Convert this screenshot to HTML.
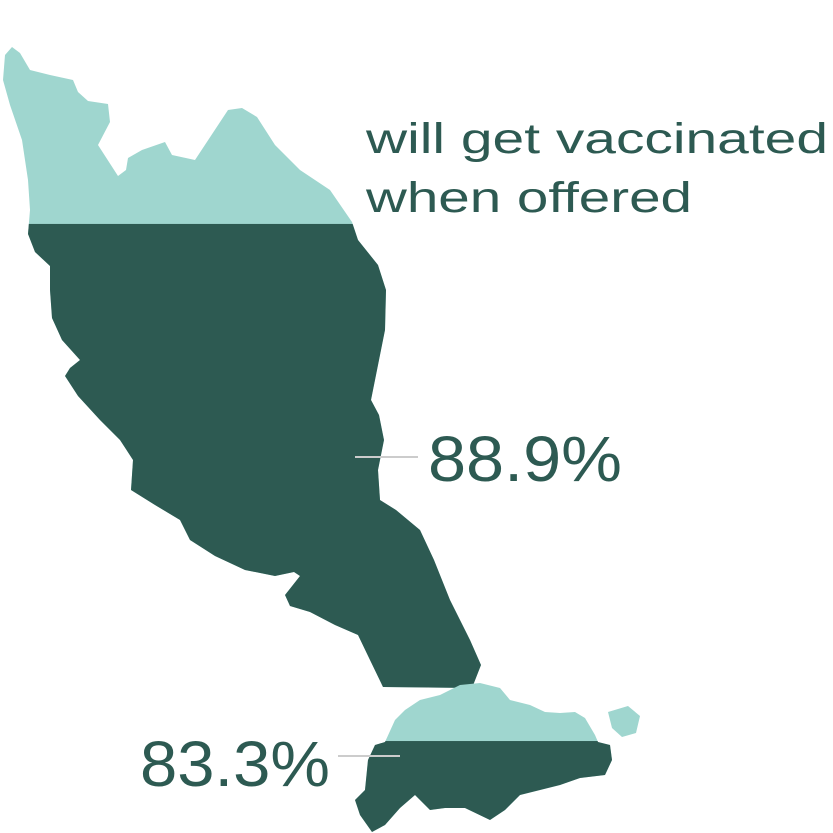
<!DOCTYPE html>
<html><head><meta charset="utf-8"><style>
html,body{margin:0;padding:0;background:#fff;}
svg{display:block;}
text{font-family:"Liberation Sans",sans-serif;fill:#2d5a52;}
</style></head><body>
<svg id="chart" width="833" height="833" viewBox="0 0 833 833">
<defs>
<clipPath id="clip-my"><path id="my-shape" d="M5,55 L12,47 L20,53 L30,70 L50,75 L73,80 L78,92 L88,101 L108,104 L110,122 L98,145 L118,176 L126,170 L128,158 L142,150 L165,142 L172,155 L195,160 L228,110 L242,108 L257,117 L275,145 L300,170 L330,190 L352,222 L358,240 L378,265 L386,290 L385,330 L375,380 L371,400 L379,415 L384,440 L378,470 L380,500 L396,510 L420,530 L434,560 L450,600 L470,640 L481,665 L472,688 L383,687 L370,660 L358,635 L335,625 L310,612 L290,606 L285,595 L300,576 L294,572 L275,576 L245,570 L215,556 L190,540 L180,520 L155,505 L131,490 L133,460 L120,440 L100,420 L78,396 L65,376 L70,368 L80,360 L62,340 L52,318 L50,290 L50,266 L35,252 L28,234 L30,210 L28,180 L22,140 L10,105 L3,80 Z"/></clipPath>
<clipPath id="clip-sg"><path id="sg-shape" d="M375,745 L385,742 L395,720 L405,710 L420,700 L440,695 L460,685 L480,683 L500,688 L510,700 L530,705 L545,712 L560,713 L575,712 L585,718 L595,735 L598,742 L610,745 L612,760 L605,775 L580,778 L560,785 L520,795 L505,810 L490,820 L465,808 L445,808 L430,810 L415,795 L400,808 L385,825 L372,832 L360,815 L355,800 L365,790 L368,760 Z M608,712 L628,706 L640,716 L636,733 L622,737 L612,728 Z"/></clipPath>
</defs>
<g id="shapes"></g>
<text x="366" y="153" font-size="43" textLength="462" lengthAdjust="spacingAndGlyphs">will get vaccinated</text>
<text x="366" y="212" font-size="43" textLength="326" lengthAdjust="spacingAndGlyphs">when offered</text>
<line x1="355" y1="457" x2="418" y2="457" stroke="#ccc" stroke-width="2"/>
<line x1="338" y1="756" x2="400" y2="756" stroke="#ccc" stroke-width="2"/>
<text id="lbl-0" x="428" y="481" font-size="64" textLength="194" lengthAdjust="spacingAndGlyphs"></text>
<text id="lbl-1" x="140" y="786" font-size="64" textLength="190" lengthAdjust="spacingAndGlyphs"></text>
</svg>
<script>
const regions = ["malaysia", "singapore"];
const values = [88.9, 83.3];
const labels = ["88.9%", "83.3%"];
// geometry per region (layout, not data)
const geom = [
  {clip:"clip-my", shape:"#my-shape", top:40, bottom:688, zero:688, full:166},
  {clip:"clip-sg", shape:"#sg-shape", top:680, bottom:834, zero:828, full:723.6}
];
function yFor(i, v){ const g=geom[i]; return g.zero - (v/100)*(g.zero-g.full); }
const NS="http://www.w3.org/2000/svg";
const G=document.getElementById('shapes');
regions.forEach((r,i)=>{
  const g=geom[i];
  const grp=document.createElementNS(NS,'g');
  grp.setAttribute('clip-path','url(#'+g.clip+')');
  
  
  const bg=document.createElementNS(NS,'rect');
  bg.setAttribute('x',0);bg.setAttribute('y',g.top);bg.setAttribute('width',833);bg.setAttribute('height',g.bottom-g.top);
  bg.setAttribute('fill','#9fd6cf');
  
  
  grp.appendChild(bg);
  const y=yFor(i,values[i]);
  const fg=document.createElementNS(NS,'rect');
  fg.setAttribute('x',0);fg.setAttribute('y',y);fg.setAttribute('width',833);fg.setAttribute('height',Math.max(0,g.bottom-y));
  fg.setAttribute('fill','#2d5a52');
  
  
  grp.appendChild(fg);
  G.appendChild(grp);
  document.getElementById('lbl-'+i).textContent=labels[i];
});
</script>
</body></html>
